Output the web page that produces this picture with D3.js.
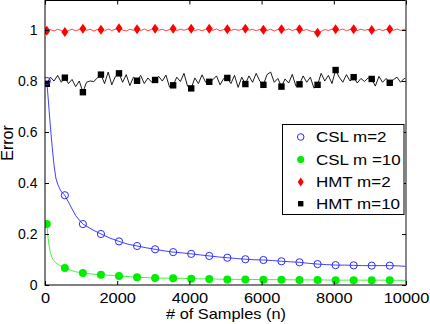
<!DOCTYPE html>
<html><head><meta charset="utf-8">
<script src="https://cdn.jsdelivr.net/npm/d3@7"></script>
<style>
html,body{margin:0;padding:0;background:#fff;}
text{font-family:"Liberation Sans",Arial,Helvetica,sans-serif;fill:#000;}
</style></head>
<body>
<svg id="chart" width="430" height="324"></svg>
<script>
// ---------- data ----------
const xTicks = [0, 2000, 4000, 6000, 8000, 10000];
const yTicks = [0, 0.2, 0.4, 0.6, 0.8, 1];
const legendLabels = ["CSL m=2", "CSL m =10", "HMT m=2", "HMT m=10"];

// sample positions where markers are drawn
const markerN = [50,550,1050,1550,2050,2550,3050,3550,4050,4550,5050,5550,6050,6550,7050,7550,8050,8550,9050,9550];

// CSL m=2 (blue)
const cslM2N = [50,100,150,200,250,300,350,400,450,550,650,750,850,950,1050,1300,1550,1800,2050,2300,2550,2800,3050,3300,3550,3800,4050,4300,4550,4800,5050,5300,5550,5800,6050,6300,6550,6800,7050,7300,7550,7800,8050,8300,8550,8800,9050,9300,9550,9800,10000];
const cslM2 = [0.80,0.71,0.62,0.54,0.47,0.42,0.396,0.38,0.366,0.352,0.325,0.298,0.272,0.255,0.239,0.218,0.200,0.184,0.171,0.160,0.153,0.146,0.140,0.134,0.129,0.126,0.122,0.118,0.114,0.110,0.107,0.104,0.101,0.099,0.098,0.096,0.093,0.091,0.089,0.085,0.082,0.080,0.078,0.078,0.077,0.076,0.076,0.076,0.076,0.075,0.073];
const cslM2Markers = [0.80,0.352,0.239,0.200,0.171,0.153,0.140,0.129,0.122,0.114,0.107,0.101,0.098,0.093,0.089,0.082,0.078,0.077,0.076,0.076];

// CSL m=10 (green)
const cslM10N = [50,100,150,200,250,300,400,550,700,850,1050,1300,1550,1800,2050,2300,2550,2800,3050,3300,3550,3800,4050,4300,4550,4800,5050,5550,6050,6550,7050,7550,8050,8550,9050,9550,10000];
const cslM10 = [0.239,0.165,0.125,0.105,0.095,0.087,0.077,0.067,0.058,0.052,0.047,0.043,0.040,0.038,0.035,0.033,0.030,0.029,0.027,0.027,0.026,0.026,0.025,0.024,0.024,0.023,0.022,0.022,0.021,0.021,0.020,0.020,0.019,0.019,0.019,0.019,0.018];
const cslM10Markers = [0.239,0.067,0.047,0.040,0.035,0.030,0.027,0.026,0.025,0.024,0.022,0.022,0.021,0.021,0.020,0.020,0.019,0.019,0.019,0.019];

// HMT lines sampled every 100 samples from n=50, plus end point n=10000
const hmtN = d3.range(50, 10000, 100).concat([10000]);
const hmtM2 = [0.997,1.002,0.996,1.003,0.998,0.992,0.998,1.003,0.997,1.002,
1.005,0.999,1.003,0.996,1.002,1.001,0.997,1.004,0.998,1.003,
1.007,1.000,0.996,1.003,0.999,1.003,0.998,1.004,0.997,1.002,
1.005,0.999,1.003,0.997,1.002,1.005,0.998,1.003,0.999,1.004,
1.005,0.998,1.002,0.997,1.003,1.005,0.999,1.004,0.997,1.002,
1.003,0.998,1.003,0.999,1.002,1.005,0.999,1.003,0.997,1.002,
1.001,0.998,1.003,0.996,1.002,1.003,0.999,1.004,0.998,1.003,
1.003,0.998,1.002,0.996,0.994,0.989,0.995,1.002,0.998,1.003,
1.003,0.999,1.004,0.997,1.002,1.003,0.998,1.003,0.999,1.002,
1.000,0.997,1.003,0.998,1.002,1.003,0.999,1.004,0.998,1.002,1.003];
const hmtM2Markers = [0.997,0.992,1.005,1.001,1.007,1.003,1.005,1.005,1.005,1.005,1.003,1.005,1.001,1.003,1.003,0.989,1.003,1.003,1.000,1.003];

const hmtM10 = [0.789,0.815,0.800,0.822,0.795,0.813,0.790,0.806,0.778,0.800,
0.756,0.795,0.800,0.798,0.812,0.825,0.790,0.835,0.785,0.818,
0.830,0.795,0.825,0.782,0.815,0.801,0.822,0.790,0.812,0.796,
0.804,0.818,0.800,0.823,0.776,0.783,0.815,0.798,0.830,0.779,
0.771,0.812,0.790,0.824,0.795,0.797,0.805,0.820,0.785,0.810,
0.812,0.790,0.822,0.775,0.815,0.788,0.820,0.795,0.830,0.800,
0.785,0.825,0.835,0.795,0.810,0.778,0.808,0.792,0.826,0.780,
0.787,0.820,0.795,0.815,0.772,0.785,0.830,0.800,0.822,0.790,
0.843,0.815,0.795,0.825,0.800,0.815,0.792,0.810,0.798,0.812,
0.808,0.780,0.818,0.795,0.810,0.793,0.805,0.815,0.795,0.810,0.808];
const hmtM10Markers = [0.789,0.813,0.756,0.825,0.830,0.801,0.804,0.783,0.771,0.797,0.812,0.788,0.785,0.778,0.787,0.785,0.843,0.815,0.808,0.793];

// ---------- drawing ----------
const svg = d3.select("#chart");
const L = 45, R = 406, T = 0.5, B = 285;
const SX = 1.17; // horizontal stretch of the reference's lettering
const x = d3.scaleLinear().domain([0, 10000]).range([L, R]);
const y = d3.scaleLinear().domain([0, 1]).range([B, 30]);

const blue = "#2b2bff", green = "#00ee00", red = "#ff0000";

svg.append("defs").append("clipPath").attr("id","pc")
  .append("rect").attr("x", L).attr("y", T).attr("width", R-L).attr("height", B-T);

const plot = svg.append("g").attr("clip-path","url(#pc)");
const line = (ns, vs) => d3.line().x((d,i)=>x(ns[i])).y(d=>y(d))(vs);

plot.append("path").attr("d", line(hmtN, hmtM2)).attr("fill","none").attr("stroke","#ff3030").attr("stroke-width",0.9);
plot.append("path").attr("d", line(hmtN, hmtM10)).attr("fill","none").attr("stroke","#000").attr("stroke-width",0.9);
plot.append("path").attr("d", line(cslM2N, cslM2)).attr("fill","none").attr("stroke",blue).attr("stroke-width",0.9);
plot.append("path").attr("d", line(cslM10N, cslM10)).attr("fill","none").attr("stroke","#33ee33").attr("stroke-width",0.9);

const diamond = (cx, cy, w, h) => `M${cx},${cy-h/2}L${cx+w/2},${cy}L${cx},${cy+h/2}L${cx-w/2},${cy}Z`;

// markers
plot.selectAll(".mr").data(hmtM2Markers).enter().append("path")
  .attr("d",(d,i)=>diamond(x(markerN[i]), y(d), 7, 10)).attr("fill",red);
plot.selectAll(".mk").data(hmtM10Markers).enter().append("rect")
  .attr("x",(d,i)=>x(markerN[i])-3.2).attr("y",d=>y(d)-3.2).attr("width",6.4).attr("height",6.4).attr("fill","#000");
plot.selectAll(".mb").data(cslM2Markers).enter().append("circle")
  .attr("cx",(d,i)=>x(markerN[i])).attr("cy",d=>y(d)).attr("r",3.6)
  .attr("fill","none").attr("stroke",blue).attr("stroke-width",1);
plot.selectAll(".mg").data(cslM10Markers).enter().append("circle")
  .attr("cx",(d,i)=>x(markerN[i])).attr("cy",d=>y(d)).attr("r",4).attr("fill",green);

// frame
svg.append("rect").attr("x",L).attr("y",T).attr("width",R-L).attr("height",B-T)
  .attr("fill","none").attr("stroke","#000").attr("stroke-width",1);
svg.append("line").attr("x1",R).attr("x2",R).attr("y1",T).attr("y2",B).attr("stroke","#888").attr("stroke-width",1.6);

// axes ticks (inward) via d3 axes
const xb = svg.append("g").attr("transform",`translate(0,${B})`)
  .call(d3.axisBottom(x).tickValues(xTicks).tickSizeInner(-4).tickSizeOuter(0).tickPadding(8).tickFormat(d3.format("d")));
const xt = svg.append("g").attr("transform",`translate(0,${T})`)
  .call(d3.axisTop(x).tickValues(xTicks).tickSizeInner(-4).tickSizeOuter(0).tickFormat(""));
const yl = svg.append("g").attr("transform",`translate(${L},0)`)
  .call(d3.axisLeft(y).tickValues(yTicks).tickSizeInner(-4).tickSizeOuter(0).tickPadding(7.5).tickFormat(d=>d===0?"0":d===1?"1":d3.format(".1f")(d)));
const yr = svg.append("g").attr("transform",`translate(${R},0)`)
  .call(d3.axisRight(y).tickValues(yTicks).tickSizeInner(-4).tickSizeOuter(0).tickFormat(""));
[xb,xt,yl,yr].forEach(g=>{
  g.select(".domain").remove();
  g.selectAll("line").attr("stroke","#000");
  g.selectAll("text").attr("font-family","Liberation Sans, Arial, sans-serif").attr("font-size","14px").attr("fill","#000");
});
xb.selectAll("text").attr("transform",`scale(${SX},1)`);

// axis labels
svg.append("g").attr("transform","translate(226,319)")
  .append("text").attr("transform",`scale(${SX},1)`).attr("text-anchor","middle").attr("font-size","14px").text("# of Samples (n)");
svg.append("text").attr("transform","translate(13,143) rotate(-90)").attr("text-anchor","middle").attr("font-size","16px").text("Error");

// legend
const lg = svg.append("g");
lg.append("rect").attr("x",282.5).attr("y",124.5).attr("width",121.5).attr("height",90)
  .attr("fill","#fff").attr("stroke","#000").attr("stroke-width",1);
const rowsY = [137, 159.5, 182, 203.7];
const mx = 300.7;
lg.append("circle").attr("cx",mx).attr("cy",rowsY[0]).attr("r",3.3).attr("fill","none").attr("stroke",blue).attr("stroke-width",1);
lg.append("circle").attr("cx",mx).attr("cy",rowsY[1]).attr("r",3.6).attr("fill",green);
lg.append("path").attr("d",diamond(mx,rowsY[2],6,9)).attr("fill",red);
lg.append("rect").attr("x",mx-2.7).attr("y",rowsY[3]-2.7).attr("width",5.4).attr("height",5.4).attr("fill","#000");
lg.selectAll(".lt").data(legendLabels).enter().append("g")
  .attr("transform",(d,i)=>`translate(316,${rowsY[i]+5.2})`)
  .append("text").attr("transform",`scale(${SX},1)`).attr("font-size","14.5px").text(d=>d);
</script>
</body></html>
